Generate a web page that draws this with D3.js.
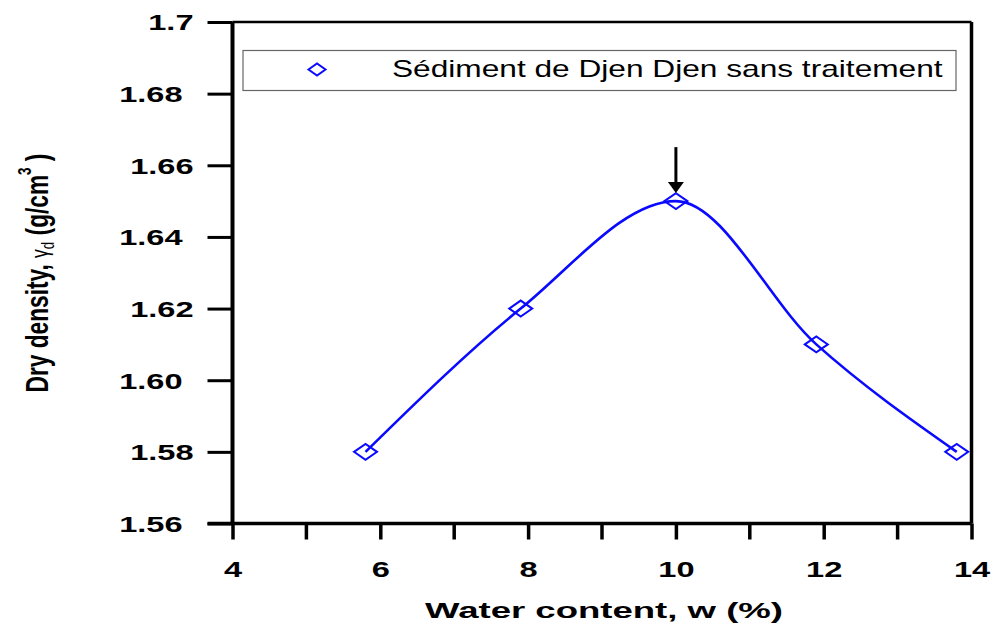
<!DOCTYPE html>
<html><head><meta charset="utf-8">
<script src="https://cdn.jsdelivr.net/npm/d3@7"></script>
<style>body{margin:0;background:#fff}svg{display:block}</style>
</head><body>
<svg id="c" width="993" height="624"></svg>
<script>
const waterContent = [5.8, 7.9, 10, 11.9, 13.8];
const dryDensity = [1.58, 1.62, 1.65, 1.61, 1.58];
const xTicks = [4, 6, 8, 10, 12, 14];
const xMinorTicks = [5, 7, 9, 11, 13];
const yTicks = [1.56, 1.58, 1.60, 1.62, 1.64, 1.66, 1.68, 1.70];
const yTickLabels = ["1.56", "1.58", "1.60", "1.62", "1.64", "1.66", "1.68", "1.7"];
const seriesName = "Sédiment de Djen Djen sans traitement";
const optimum = {x: 10, y: 1.65};

const svg = d3.select("#c");
const L = 232.5, R = 971.5, T = 22, B = 523.5;
const x = d3.scaleLinear().domain([4, 14]).range([L, R]);
const y = d3.scaleLinear().domain([1.56, 1.70]).range([B, T]);
const blue = "#0a0aff";
const FONT = "Arial, 'Liberation Sans', sans-serif";
const SX = 1.48; // horizontal stretch of the reference image

// frame
svg.append("line").attr("x1", L).attr("x2", R).attr("y1", T).attr("y2", T).attr("stroke", "#000").attr("stroke-width", 2.5);
svg.append("line").attr("x1", R).attr("x2", R).attr("y1", T).attr("y2", B).attr("stroke", "#000").attr("stroke-width", 3.5);

// x axis
const xAxis = d3.axisBottom(x).tickValues(xTicks).tickSize(16).tickPadding(22).tickFormat(d3.format("d"));
const gx = svg.append("g").attr("transform", `translate(0,${B})`).call(xAxis);
gx.select(".domain").attr("stroke-width", 3.5).attr("d", `M${L - 25},0H${R}`);
gx.selectAll(".tick line").attr("stroke-width", 3.5);
gx.selectAll(".tick text").attr("font-family", FONT).attr("font-weight", "bold").attr("font-size", 22).attr("fill", "#000")
  .attr("transform", `scale(${SX},1)`);
svg.append("g").selectAll("line").data(xMinorTicks).join("line")
  .attr("x1", d => x(d)).attr("x2", d => x(d)).attr("y1", B).attr("y2", B + 16)
  .attr("stroke", "#000").attr("stroke-width", 3.5);

// y axis
const yAxis = d3.axisLeft(y).tickValues(yTicks).tickSize(25).tickPadding(0).tickFormat((d, i) => yTickLabels[i]);
const gy = svg.append("g").attr("transform", `translate(${L},0)`).call(yAxis);
gy.select(".domain").attr("stroke-width", 4).attr("d", `M0,${T}V${B}`);
gy.selectAll(".tick line").attr("stroke-width", 3);
gy.selectAll(".tick text").attr("font-family", FONT).attr("font-weight", "bold").attr("font-size", 22).attr("fill", "#000").attr("dy", "0.36em")
  .each(function(d, i) {
    const xe = i % 2 === 0 ? -50 : -39;
    d3.select(this).attr("x", xe).attr("transform", `translate(${xe},0) scale(${SX},1) translate(${-xe},0)`);
  });

// fit a text horizontally to a target width
function stretchTo(sel, ax, width) {
  const w = sel.node().getComputedTextLength();
  const s = width / w;
  sel.attr("transform", `translate(${ax},0) scale(${s},1) translate(${-ax},0)`);
}

// axis titles
const xt = svg.append("text").attr("x", 604).attr("y", 618).attr("text-anchor", "middle")
  .attr("font-family", FONT).attr("font-weight", "bold").attr("font-size", 22)
  .text("Water content, w (%)");
stretchTo(xt, 604, 358);

const yt = svg.append("text").attr("text-anchor", "middle")
  .attr("font-family", FONT).attr("font-weight", "bold").attr("font-size", 22);
yt.append("tspan").text("Dry density, ");
yt.append("tspan").attr("font-weight", "normal").attr("font-size", 17).text("γ");
yt.append("tspan").attr("font-weight", "normal").attr("font-size", 13).attr("dy", 4).text("d");
yt.append("tspan").attr("dy", -4).text(" (g/cm");
yt.append("tspan").attr("font-size", 13).attr("dy", -12).text("3");
yt.append("tspan").attr("dy", 12).text(" )");
{
  const len = yt.node().getComputedTextLength();
  const s = 239 / len;
  yt.attr("transform", `translate(48,273) rotate(-90) scale(${s},1.45)`);
}

// curve
const pts = waterContent.map((w, i) => [w, dryDensity[i]]);
const line = d3.line().x(d => x(d[0])).y(d => y(d[1])).curve(d3.curveMonotoneX);
svg.append("path").attr("d", line(pts)).attr("fill", "none").attr("stroke", blue).attr("stroke-width", 2.6);

// markers
const diamond = (cx, cy, w, h) => `M${cx - w / 2},${cy}L${cx},${cy - h / 2}L${cx + w / 2},${cy}L${cx},${cy + h / 2}Z`;
svg.append("g").selectAll("path").data(pts).join("path")
  .attr("d", d => diamond(x(d[0]), y(d[1]), 23, 16))
  .attr("fill", "none").attr("stroke", blue).attr("stroke-width", 2);

// arrow
const ax = x(optimum.x), ay = y(optimum.y) - 8;
svg.append("line").attr("x1", ax).attr("x2", ax).attr("y1", ay - 46).attr("y2", ay - 8).attr("stroke", "#000").attr("stroke-width", 3);
svg.append("path").attr("d", `M${ax - 8},${ay - 11}L${ax + 8},${ay - 11}L${ax},${ay}Z`).attr("fill", "#000");

// legend
svg.append("rect").attr("x", 243).attr("y", 50.5).attr("width", 713).attr("height", 40).attr("fill", "#fff").attr("stroke", "#666").attr("stroke-width", 1.2);
svg.append("path").attr("d", diamond(317, 69.5, 17, 12)).attr("fill", "none").attr("stroke", blue).attr("stroke-width", 2);
const lt = svg.append("text").attr("x", 392).attr("y", 77).attr("font-family", FONT).attr("font-size", 23).attr("fill", "#000").text(seriesName);
stretchTo(lt, 392, 551);
</script>
</body></html>
